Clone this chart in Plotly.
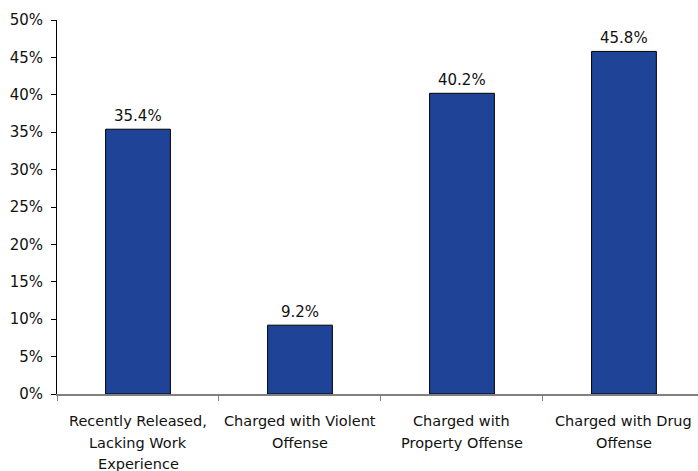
import plotly.graph_objects as go

categories = ["Recently Released,<br>Lacking Work<br>Experience",
              "Charged with Violent<br>Offense",
              "Charged with<br>Property Offense",
              "Charged with Drug<br>Offense"]
values = [35.4, 9.2, 40.2, 45.8]
value_labels = ["35.4%", "9.2%", "40.2%", "45.8%"]
y_ticks = [0, 5, 10, 15, 20, 25, 30, 35, 40, 45, 50]
y_tick_labels = [f"{v}%" for v in y_ticks]

FONT = "DejaVu Sans"
cat_ids = list(range(len(categories)))

fig = go.Figure()
fig.add_trace(go.Bar(
    x=cat_ids, y=values, width=0.4,
    marker=dict(color="#1f4497", line=dict(color="#000000", width=1)),
    hoverinfo="skip",
))

annotations = []
for i, (v, lab) in enumerate(zip(values, value_labels)):
    annotations.append(dict(x=i, y=v, xref="x", yref="y", text=lab,
                            showarrow=False, yanchor="bottom", yshift=2,
                            font=dict(family=FONT, size=15, color="#111111")))
for i, cat in enumerate(categories):
    for j, line in enumerate(cat.split("<br>")):
        annotations.append(dict(x=i, y=0, xref="x", yref="paper", text=line,
                                showarrow=False, yanchor="middle",
                                yshift=-27 - 21.5 * j,
                                font=dict(family=FONT, size=14.5, color="#111111")))

fig.update_layout(
    width=698, height=471,
    margin=dict(l=57, r=0, t=20, b=77),
    paper_bgcolor="white", plot_bgcolor="white",
    showlegend=False,
    annotations=annotations,
    font=dict(family=FONT, size=14, color="#111111"),
)
fig.update_xaxes(
    type="linear", range=[-0.5, 3.457],
    tickvals=[-0.5, 0.5, 1.5, 2.5, 3.5], showticklabels=False,
    ticks="outside", ticklen=5, tickcolor="#808080", tickwidth=1,
    showline=True, linecolor="#808080", linewidth=2,
    showgrid=False, zeroline=False,
)
fig.update_yaxes(
    range=[0, 50], tickvals=y_ticks, ticktext=y_tick_labels,
    ticks="outside", ticklen=5, tickcolor="#000000", tickwidth=1,
    showline=True, linecolor="#000000", linewidth=1,
    showgrid=False, zeroline=False, ticklabelstandoff=5,
    tickfont=dict(family=FONT, size=15, color="#111111"),
)

fig.write_html("out.html")
